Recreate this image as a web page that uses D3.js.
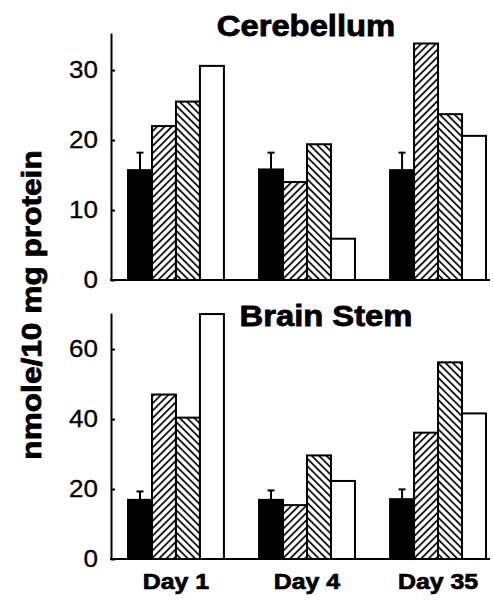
<!DOCTYPE html>
<html>
<head>
<meta charset="utf-8">
<script src="https://cdn.jsdelivr.net/npm/d3@7"></script>
<style>
  html, body { margin: 0; padding: 0; background: #fff; }
  svg { display: block; }
  text { font-family: "Liberation Sans", Arial, Helvetica, sans-serif; fill: #000; }
</style>
</head>
<body>
<svg id="chart" width="493" height="602"></svg>
<script>
// Days on the x axis
const days = ["Day 1", "Day 4", "Day 35"];
// Four treatment groups drawn per day (solid, forward hatch, back hatch, open)
const groups = ["control", "hatchA", "hatchB", "open"];

// Cerebellum, nmole/10 mg protein
const cerebellumValues = [
  [15.7, 22.0, 25.5, 30.6],
  [15.8, 14.0, 19.4, 5.9],
  [15.7, 33.8, 23.7, 20.6]
];
const cerebellumErr = [2.5, 2.4, 2.5];
const cerebellumTicks = [0, 10, 20, 30];

// Brain stem, nmole/10 mg protein
const brainStemValues = [
  [16.9, 47.0, 40.4, 70.0],
  [16.9, 15.4, 29.6, 22.3],
  [17.1, 36.1, 56.2, 41.6]
];
const brainStemErr = [2.4, 2.7, 2.8];
const brainStemTicks = [0, 20, 40, 60];

const svg = d3.select("#chart");
const widen = 1.13; // glyphs are set a little wider than the font's natural width

// Hatch fills
const defs = svg.append("defs");
const hatchGap = 5.2;
function hatch(id, angle) {
  const p = defs.append("pattern")
    .attr("id", id)
    .attr("patternUnits", "userSpaceOnUse")
    .attr("width", hatchGap).attr("height", hatchGap)
    .attr("patternTransform", `rotate(${angle})`);
  p.append("rect").attr("width", hatchGap).attr("height", hatchGap).attr("fill", "#fff");
  p.append("line").attr("x1", 1).attr("y1", 0).attr("x2", 1).attr("y2", hatchGap)
    .attr("stroke", "#000").attr("stroke-width", 1.7);
}
hatch("hatchFwd", 45);
hatch("hatchBack", -45);
const fills = { control: "#000", hatchA: "url(#hatchFwd)", hatchB: "url(#hatchBack)", open: "#fff" };

const x0 = d3.scaleBand().domain(days).range([128, 486]).paddingInner(0.268).paddingOuter(0);
const x1 = d3.scaleBand().domain(groups).range([0, x0.bandwidth()]);
const axisX = 111, axisRight = 490;

function stretch(sel) {
  sel.each(function () {
    const w = this.getComputedTextLength();
    d3.select(this).attr("textLength", w * widen).attr("lengthAdjust", "spacingAndGlyphs");
  });
}

function panel(values, errs, ticks, yBottom, yTop, maxVal, title, titleX, titleY) {
  const y = d3.scaleLinear().domain([0, maxVal]).range([yBottom, yTop]);
  const g = svg.append("g");

  // y axis: ticks point inward, labels to the left
  const ax = g.append("g")
    .attr("transform", `translate(${axisX},0)`)
    .call(d3.axisLeft(y).tickValues(ticks).tickSizeInner(-4).tickSizeOuter(0).tickPadding(13).tickFormat(d3.format("d")));
  ax.select(".domain").attr("stroke", "#000").attr("stroke-width", 2);
  ax.selectAll(".tick line").attr("stroke", "#000").attr("stroke-width", 2);
  ax.selectAll(".tick text")
    .attr("font-size", 23)
    .attr("font-family", "'Liberation Sans', Arial, sans-serif")
    .attr("fill", "#000")
    .attr("stroke", "#000").attr("stroke-width", 0.3);
  stretch(ax.selectAll(".tick text"));

  // bars
  const dayG = g.selectAll(".day").data(values).join("g")
    .attr("transform", (d, i) => `translate(${x0(days[i])},0)`);
  dayG.selectAll("rect").data(d => d.map((v, j) => ({ key: groups[j], v })))
    .join("rect")
    .attr("x", d => x1(d.key))
    .attr("y", d => y(d.v))
    .attr("width", x1.bandwidth())
    .attr("height", d => y(0) - y(d.v))
    .attr("fill", d => fills[d.key])
    .attr("stroke", "#000")
    .attr("stroke-width", 2);

  // error bars on the solid bars
  dayG.each(function (d, i) {
    const cx = x1("control") + x1.bandwidth() / 2;
    const top = y(d[0] + errs[i]);
    const eg = d3.select(this);
    eg.append("line").attr("x1", cx).attr("x2", cx).attr("y1", y(d[0])).attr("y2", top)
      .attr("stroke", "#000").attr("stroke-width", 2);
    eg.append("line").attr("x1", cx - 3.5).attr("x2", cx + 3.5).attr("y1", top).attr("y2", top)
      .attr("stroke", "#000").attr("stroke-width", 2);
  });

  // baseline
  g.append("line").attr("x1", axisX - 1).attr("x2", axisRight).attr("y1", y(0)).attr("y2", y(0))
    .attr("stroke", "#000").attr("stroke-width", 2);

  const t = g.append("text").attr("x", titleX).attr("y", titleY)
    .attr("text-anchor", "middle").attr("font-size", 29).attr("font-weight", "bold")
    .attr("stroke", "#000").attr("stroke-width", 0.8).text(title);
  stretch(t);
  return y;
}

panel(cerebellumValues, cerebellumErr, cerebellumTicks, 280, 33, 35.3, "Cerebellum", 306, 36);
panel(brainStemValues, brainStemErr, brainStemTicks, 559, 313, 70.3, "Brain Stem", 326, 326);

// day labels
const dl = svg.append("g").selectAll("text").data(days).join("text")
  .attr("x", d => x0(d) + x0.bandwidth() / 2)
  .attr("y", 589)
  .attr("text-anchor", "middle")
  .attr("font-size", 22)
  .attr("font-weight", "bold")
  .attr("stroke", "#000").attr("stroke-width", 0.7)
  .text(d => d);
stretch(dl);

// y axis title
const yt = svg.append("text")
  .attr("transform", "translate(41,305) rotate(-90)")
  .attr("text-anchor", "middle")
  .attr("font-size", 28)
  .attr("font-weight", "bold")
  .attr("stroke", "#000").attr("stroke-width", 0.8)
  .text("nmole/10 mg protein");
stretch(yt);
</script>
</body>
</html>
